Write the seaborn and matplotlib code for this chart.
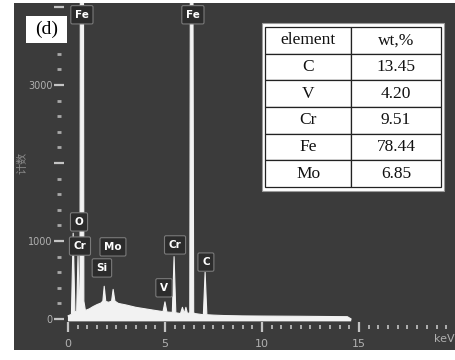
import matplotlib
matplotlib.use("Agg")
import matplotlib.pyplot as plt
import seaborn as sns
import numpy as np
import pandas as pd
from matplotlib.patches import Rectangle
from matplotlib.ticker import FixedLocator, FixedFormatter

# ---- data ----
energy_kev = [0.00, 0.18, 0.27, 0.36, 0.45, 0.52, 0.58, 0.62, 0.66, 0.78, 0.82, 0.90,
              1.10, 1.30, 1.50, 1.70, 1.80, 1.87, 1.95, 2.10, 2.25, 2.33, 2.42, 2.60,
              3.00, 3.50, 4.00, 4.50, 4.90, 5.00, 5.10, 5.38, 5.47, 5.56, 5.80, 5.90,
              6.00, 6.08, 6.16, 6.28, 6.34, 6.40, 6.48, 6.54, 6.98, 7.07, 7.16, 7.50,
              8.00, 9.00, 10.0, 12.0, 14.4, 14.6]
counts = [40, 60, 1100, 90, 100, 820, 180, 250, 9000, 9000, 230, 110,
          130, 160, 185, 205, 230, 420, 225, 215, 230, 380, 230, 200,
          180, 150, 130, 110, 95, 220, 90, 85, 800, 80, 70, 150,
          70, 150, 70, 80, 9000, 9000, 80, 70, 55, 600, 55, 50,
          45, 40, 38, 35, 30, 0]

peak_labels = ["Fe", "Fe", "O", "Cr", "Si", "Mo", "V", "Cr", "C"]
label_kev = [0.72, 6.44, 0.57, 0.62, 1.75, 2.32, 4.95, 5.52, 7.11]
label_counts = [3900, 3900, 1245, 935, 655, 925, 400, 950, 730]

y_ticks = [0, 1000, 2000, 3000, 4000]
y_tick_labels = ["0", "1000", "", "3000", ""]
x_ticks = [0, 5, 10, 15]
x_tick_labels = ["0", "5", "10", "15"]

table_elements = ["C", "V", "Cr", "Fe", "Mo"]
table_wt = ["13.45", "4.20", "9.51", "78.44", "6.85"]
table_header = ["element", "wt,%"]

# ---- figure ----
sns.set_theme(style="dark")
plt.rcParams["font.family"] = ["DejaVu Sans", "Noto Sans CJK SC"]

W, H = 456, 360
fig = plt.figure(figsize=(W / 100, H / 100), dpi=100, facecolor="white")
ax = fig.add_axes([14 / W, 10 / H, 442 / W, 347 / H])
ax.set_facecolor("#3b3b3b")

df = pd.DataFrame({"keV": energy_kev, "counts": counts})
ax.fill_between(df["keV"], -30, df["counts"], color="#f2f2f2", lw=0, zorder=2)
sns.lineplot(data=df, x="keV", y="counts", ax=ax, color="#f2f2f2", lw=0.8,
             sort=False, estimator=None, zorder=3)

ax.set_xlim(-2.78, 20.0)
ax.set_ylim(-397, 4051)
ax.grid(False)
ax.set_xlabel("")
ax.set_ylabel("")

for s in ax.spines.values():
    s.set_color("none")
ax.spines["left"].set_position(("data", -0.46))
ax.spines["bottom"].set_position(("data", -100))

tick_col = "#c4c4c4"
ax.yaxis.set_major_locator(FixedLocator(y_ticks))
ax.yaxis.set_major_formatter(FixedFormatter(y_tick_labels))
ax.yaxis.set_minor_locator(FixedLocator(np.arange(0, 4001, 200)))
ax.xaxis.set_major_locator(FixedLocator(x_ticks))
ax.xaxis.set_major_formatter(FixedFormatter(x_tick_labels))
ax.xaxis.set_minor_locator(FixedLocator(np.arange(0, 20.01, 0.5)))

ax.tick_params(axis="y", which="major", direction="inout", length=6.5, width=1.6,
               color=tick_col, labelcolor="#b0b0b0", labelsize=7, pad=1.5, left=True)
ax.tick_params(axis="y", which="minor", direction="inout", length=2.2, width=2.0,
               color="#a8a8a8", left=True)
ax.tick_params(axis="x", which="major", direction="inout", length=7.5, width=1.6,
               color=tick_col, labelcolor="#b0b0b0", labelsize=8, pad=5, bottom=True)
ax.tick_params(axis="x", which="minor", direction="inout", length=3.5, width=1.4,
               color="#b0b0b0", bottom=True)

ax.text(19.95, -190, "keV", color="#b0b0b0", fontsize=8, ha="right", va="top",
        transform=ax.transData, clip_on=False)

# peak labels
for lab, xk, yc in zip(peak_labels, label_kev, label_counts):
    ax.text(xk, yc, lab, color="white", fontsize=7.5, fontweight="bold",
            ha="center", va="center", zorder=5,
            bbox=dict(boxstyle="round,pad=0.4,rounding_size=0.15",
                      fc="#2c2c2c", ec="#7a7a7a", lw=0.8))

# (d) box
ax.add_patch(Rectangle((0.027, 0.885), 0.093, 0.078, transform=ax.transAxes,
                       fc="white", ec="none", zorder=6))
ax.text(0.0735, 0.924, "(d)", transform=ax.transAxes, ha="center", va="center",
        fontsize=14, family="Liberation Serif", color="black", zorder=7)

# table frame + table
ax.add_patch(Rectangle((0.561, 0.458), 0.412, 0.484, transform=ax.transAxes,
                       fc="white", ec="#9a9a9a", lw=0.8, zorder=6))
cell_text = [[e, w] for e, w in zip(table_elements, table_wt)]
tbl = ax.table(cellText=cell_text, colLabels=table_header, cellLoc="center",
               colWidths=[0.49, 0.51], bbox=[0.568, 0.470, 0.398, 0.461],
               zorder=7)
tbl.auto_set_font_size(False)
for (r, c), cell in tbl.get_celld().items():
    cell.set_facecolor("white")
    cell.set_edgecolor("#222222")
    cell.set_linewidth(0.9)
    cell.get_text().set_fontsize(12.5)
    cell.get_text().set_family("Liberation Serif")
    cell.get_text().set_color("#111111")

fig.text(22 / W, 1 - 163 / H, "计数", rotation=90, ha="center", va="center",
         fontsize=8, color="#8a8a8a", family=["Noto Sans CJK SC", "DejaVu Sans"])

fig.savefig("out.png", dpi=100, facecolor="white")
